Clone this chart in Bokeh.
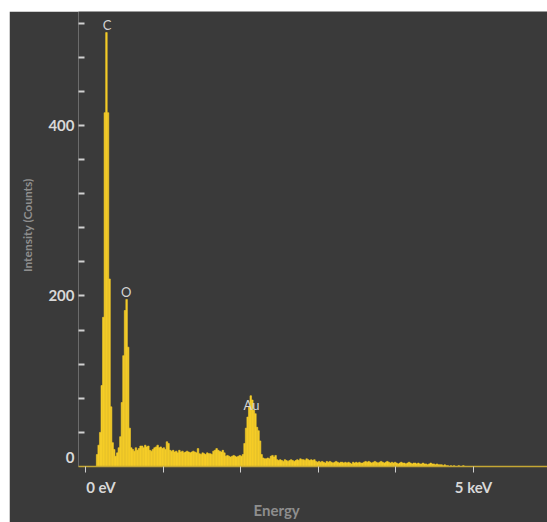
import numpy as np
from bokeh.plotting import figure
from bokeh.models import (Range1d, FixedTicker, Spacer, ColumnDataSource,
                          LinearAxis, Title)
from bokeh.layouts import column, row
from bokeh.embed import file_html
from bokeh.resources import INLINE
from bokeh.core.properties import value

# ---- data ----
channel_start_kev = 0.12
channel_width_kev = 0.02
counts = [
    0, 14, 25, 40, 95, 175, 415, 509, 415, 220,     # 0.12-0.30
    70, 28, 20, 12, 16, 22, 35, 75, 130, 183,       # 0.32-0.50
    196, 140, 45, 22, 20, 18, 22, 19, 21, 24,       # 0.52-0.70
    24, 22, 25, 23, 24, 19, 18, 20, 22, 23,         # 0.72-0.90
    25, 22, 23, 21, 22, 20, 29, 27, 19, 18,         # 0.92-1.10
    19, 17, 18, 16, 19, 17, 18, 16, 17, 18,         # 1.12-1.30
    17, 16, 17, 18, 17, 16, 21, 15, 14, 16,         # 1.32-1.50
    15, 14, 16, 15, 15, 14, 18, 19, 21, 19,         # 1.52-1.70
    18, 17, 19, 16, 12, 13, 12, 11, 12, 13,         # 1.72-1.90
    12, 11, 12, 13, 12, 14, 27, 45, 58, 70,         # 1.92-2.10
    83, 78, 66, 62, 46, 42, 30, 14, 10, 9,          # 2.12-2.30
    9, 10, 9, 12, 13, 11, 13, 8, 7, 8,              # 2.32-2.50
    7, 6, 8, 7, 6, 7, 8, 7, 6, 7,                   # 2.52-2.70
    8, 7, 9, 8, 8, 7, 9, 8, 7, 8,                   # 2.72-2.90
    7, 8, 6, 5, 6, 5, 6, 5, 4, 6,                   # 2.92-3.10
    5, 6, 5, 4, 5, 6, 5, 4, 5, 5,                   # 3.12-3.30
    4, 5, 4, 5, 4, 3, 5, 4, 5, 4,                   # 3.32-3.50
    5, 4, 4, 5, 6, 5, 6, 5, 4, 5,                   # 3.52-3.70
    6, 5, 4, 5, 6, 5, 4, 5, 6, 5,                   # 3.72-3.90
    4, 5, 4, 5, 4, 3, 4, 5, 4, 4,                   # 3.92-4.10
    3, 4, 5, 4, 3, 4, 4, 3, 4, 3,                   # 4.12-4.30
    3, 4, 3, 3, 2, 3, 4, 3, 3, 2,                   # 4.32-4.50
    3, 2, 2, 2, 1, 2, 1, 1, 0, 1,                   # 4.52-4.70
    0, 1, 0, 0, 1, 0, 0, 1, 0, 0,                   # 4.72-4.90
]
peak_labels = ["C", "O", "Au"]
peak_energy_kev = [0.277, 0.525, 2.14]
peak_label_counts = [518, 205, 72]

x_tick_marks_kev = [0, 1, 2, 3, 4, 5]
x_label_pos_kev = [0.2, 5]
x_label_text = ["0 eV", "5 keV"]
y_tick_marks = [40, 80, 120, 160, 200, 240, 280, 320, 360, 400, 440, 480, 520]
y_label_pos = [10.6, 200, 400]
y_label_text = ["0", "200", "400"]
x_title = "Energy"
y_title = "Intensity (Counts)"
y_title_pos = 338

# ---- style ----
BG = "#3a3a3a"
BAR = "#f5cd28"
AXIS_YELLOW = "#c4a634"
TICK_TEXT = "#d8d8d8"
TITLE_TEXT = "#8e8e8e"
FONT = "Lato"

edges = channel_start_kev + channel_width_kev * np.arange(len(counts) + 1)
src = ColumnDataSource(dict(left=edges[:-1], right=edges[1:], top=counts))

p = figure(width=538, height=511, output_backend="svg", toolbar_location=None,
           x_range=Range1d(-0.09, 5.954), y_range=Range1d(0, 533.7),
           x_axis_location=None, y_axis_location=None,
           min_border_left=69, min_border_right=0, min_border_top=0, min_border_bottom=56)
p.background_fill_color = BG
p.border_fill_color = BG
p.outline_line_color = None
p.grid.visible = False

p.quad(left="left", right="right", bottom=0, top="top", source=src,
       fill_color=BAR, line_color=BAR, line_width=0.6)

lab_src = ColumnDataSource(dict(x=peak_energy_kev, y=peak_label_counts, t=peak_labels))
p.text(x="x", y="y", text="t", source=lab_src, text_align="center", text_baseline="middle",
       text_font=value(FONT), text_font_size="13px", text_color="#d4d4d4")


def label_only(ax, size="15px", color=TICK_TEXT):
    ax.axis_line_color = None
    ax.major_tick_line_color = None
    ax.minor_tick_line_color = None
    ax.major_tick_in = 0
    ax.major_tick_out = 0
    ax.major_label_text_font = FONT
    ax.major_label_text_font_style = "bold"
    ax.major_label_text_font_size = size
    ax.major_label_text_color = color


# x axis: tick marks + line
xa = LinearAxis(ticker=FixedTicker(ticks=x_tick_marks_kev),
                major_label_overrides={t: "" for t in x_tick_marks_kev})
xa.minor_tick_line_color = None
xa.major_tick_in = 0
xa.major_tick_out = 6
xa.major_tick_line_color = "#cfcfcf"
xa.major_tick_line_width = 1
xa.axis_line_color = AXIS_YELLOW
xa.axis_line_width = 1.5
xa.major_label_standoff = 0
xa.major_label_text_font_size = "0px"
p.add_layout(xa, "below")

# x axis: labels
xb = LinearAxis(ticker=FixedTicker(ticks=x_label_pos_kev),
                major_label_overrides=dict(zip(x_label_pos_kev, x_label_text)))
label_only(xb)
xb.major_label_standoff = 5
p.add_layout(xb, "below")

# y axis: tick marks
ya = LinearAxis(ticker=FixedTicker(ticks=y_tick_marks),
                major_label_overrides={t: "" for t in y_tick_marks})
ya.axis_line_color = None
ya.minor_tick_line_color = None
ya.major_tick_in = 6
ya.major_tick_out = 0
ya.major_tick_line_color = "#d0d0d0"
ya.major_tick_line_width = 2
ya.major_label_standoff = 0
ya.major_label_text_font_size = "0px"
p.add_layout(ya, "left")

# y axis: labels
yb = LinearAxis(ticker=FixedTicker(ticks=y_label_pos),
                major_label_overrides=dict(zip(y_label_pos, y_label_text)))
label_only(yb)
yb.major_label_standoff = 4
p.add_layout(yb, "left")

# y axis title (vertical text)
yc = LinearAxis(ticker=FixedTicker(ticks=[y_title_pos]),
                major_label_overrides={y_title_pos: y_title})
label_only(yc, size="12px", color=TITLE_TEXT)
yc.major_label_orientation = np.pi / 2
yc.major_label_standoff = 18
p.add_layout(yc, "left")

# x axis title
p.add_layout(Title(text=x_title, align="left", offset=175, standoff=0,
                   text_font=FONT, text_font_style="bold", text_font_size="15px",
                   text_color=TITLE_TEXT), "below")

layout = column(Spacer(height=11), row(Spacer(width=9), p))
open("out.html", "w").write(file_html(layout, INLINE))
